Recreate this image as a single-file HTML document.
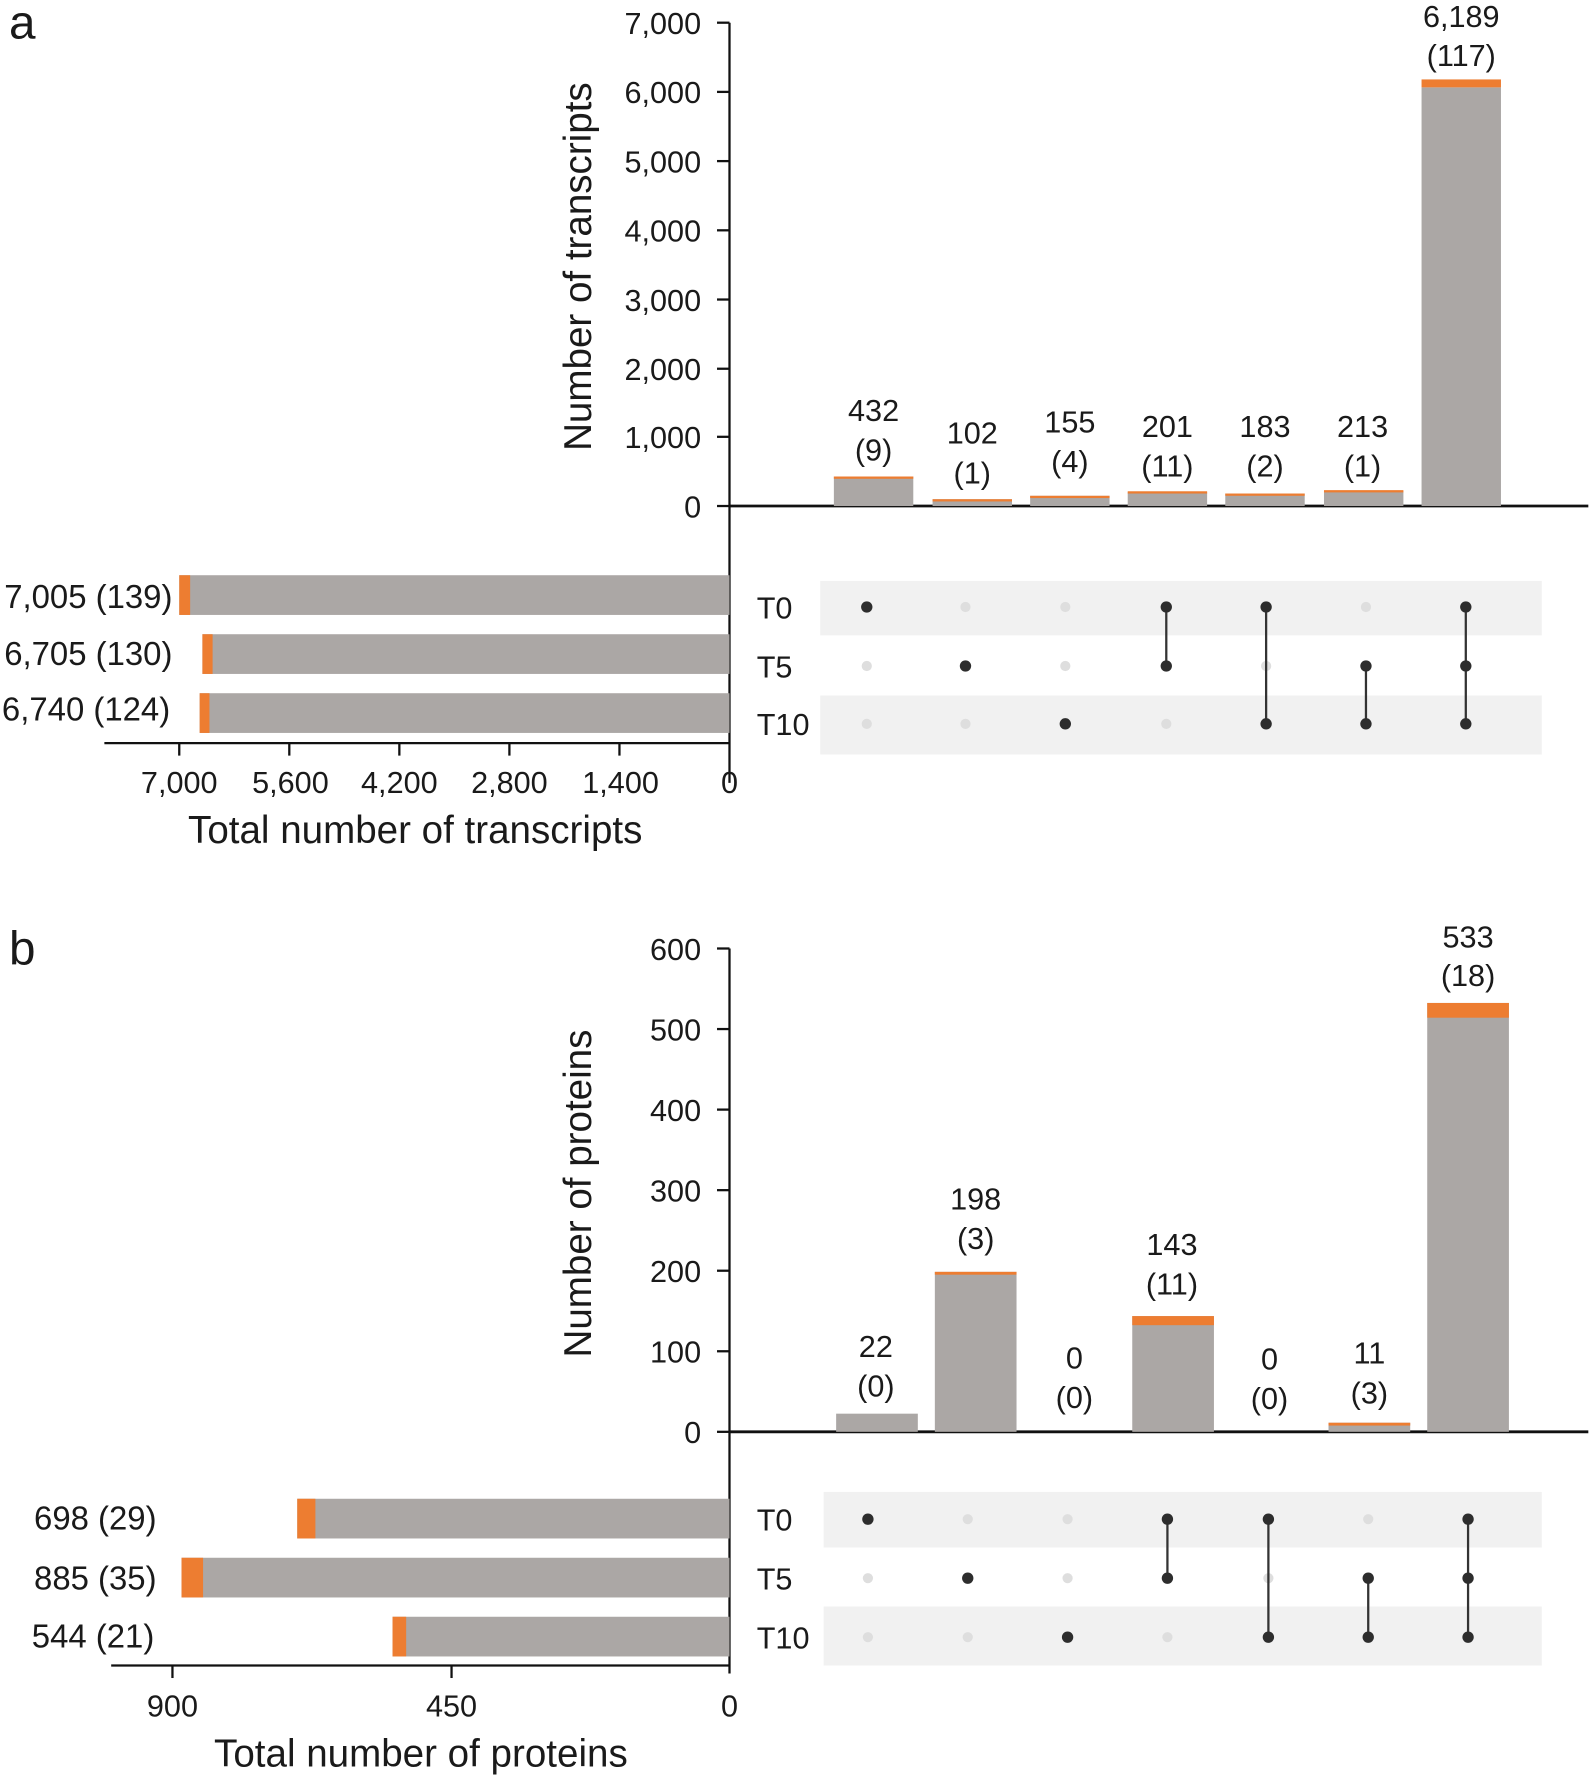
<!DOCTYPE html>
<html><head><meta charset="utf-8"><style>
html,body{margin:0;padding:0;background:#fff}
svg{display:block}
text{font-family:"Liberation Sans",Arial,sans-serif;fill:#1a1a1a}
</style></head><body>
<svg width="1594" height="1779" viewBox="0 0 1405 1568" preserveAspectRatio="none" xmlns="http://www.w3.org/2000/svg">
<g id="a">
<text x="8" y="34" font-size="42">a</text>
<line x1="643" y1="20" x2="643" y2="690" stroke="#111" stroke-width="2"/>
<line x1="643" y1="446" x2="1400" y2="446" stroke="#111" stroke-width="2.5"/>
<g stroke="#111" stroke-width="2">
<line x1="632" y1="20" x2="643" y2="20"/><line x1="632" y1="81" x2="643" y2="81"/><line x1="632" y1="142" x2="643" y2="142"/><line x1="632" y1="203" x2="643" y2="203"/><line x1="632" y1="264" x2="643" y2="264"/><line x1="632" y1="325" x2="643" y2="325"/><line x1="632" y1="385" x2="643" y2="385"/><line x1="632" y1="446" x2="643" y2="446"/>
</g>
<g font-size="27" text-anchor="end">
<text x="618" y="30">7,000</text><text x="618" y="91">6,000</text><text x="618" y="152">5,000</text><text x="618" y="213">4,000</text><text x="618" y="274">3,000</text><text x="618" y="335">2,000</text><text x="618" y="395">1,000</text><text x="618" y="456">0</text>
</g>
<text transform="translate(521,235) rotate(-90)" font-size="34" text-anchor="middle">Number of transcripts</text>
<g fill="#aba7a5">
<rect x="735" y="420" width="70" height="26"/>
<rect x="822" y="440" width="70" height="6"/>
<rect x="908" y="437" width="70" height="9"/>
<rect x="994" y="434" width="70" height="12"/>
<rect x="1080" y="435" width="70" height="11"/>
<rect x="1167" y="433" width="70" height="13"/>
<rect x="1253" y="77" width="70" height="369"/>
</g>
<g fill="#ed7d31">
<rect x="735" y="420" width="70" height="2"/>
<rect x="822" y="440" width="70" height="2"/>
<rect x="908" y="437" width="70" height="2"/>
<rect x="994" y="433" width="70" height="2"/>
<rect x="1080" y="435" width="70" height="2"/>
<rect x="1167" y="432" width="70" height="2"/>
<rect x="1253" y="70" width="70" height="7"/>
</g>
<g font-size="27" text-anchor="middle">
<text x="770" y="371">432</text><text x="770" y="406">(9)</text>
<text x="857" y="391">102</text><text x="857" y="426">(1)</text>
<text x="943" y="381">155</text><text x="943" y="416">(4)</text>
<text x="1029" y="385">201</text><text x="1029" y="420">(11)</text>
<text x="1115" y="385">183</text><text x="1115" y="420">(2)</text>
<text x="1201" y="385">213</text><text x="1201" y="420">(1)</text>
<text x="1288" y="24">6,189</text><text x="1288" y="58">(117)</text>
</g>
<rect x="723" y="512" width="636" height="48" fill="#f1f1f1"/>
<rect x="723" y="613" width="636" height="52" fill="#f1f1f1"/>
<g font-size="27"><text x="667" y="545">T0</text><text x="667" y="597">T5</text><text x="667" y="648">T10</text></g>
<g fill="#dedede">
<circle cx="851" cy="535" r="4.5"/><circle cx="939" cy="535" r="4.5"/><circle cx="1204" cy="535" r="4.5"/>
<circle cx="764" cy="587" r="4.5"/><circle cx="939" cy="587" r="4.5"/><circle cx="1116" cy="587" r="4.5"/>
<circle cx="764" cy="638" r="4.5"/><circle cx="851" cy="638" r="4.5"/><circle cx="1028" cy="638" r="4.5"/>
</g>
<g stroke="#333" stroke-width="2"><line x1="1028" y1="535" x2="1028" y2="587"/><line x1="1116" y1="535" x2="1116" y2="638"/><line x1="1204" y1="587" x2="1204" y2="638"/><line x1="1292" y1="535" x2="1292" y2="638"/></g>
<g fill="#2d2d2d">
<circle cx="764" cy="535" r="5"/><circle cx="851" cy="587" r="5"/><circle cx="939" cy="638" r="5"/>
<circle cx="1028" cy="535" r="5"/><circle cx="1028" cy="587" r="5"/>
<circle cx="1116" cy="535" r="5"/><circle cx="1116" cy="638" r="5"/>
<circle cx="1204" cy="587" r="5"/><circle cx="1204" cy="638" r="5"/>
<circle cx="1292" cy="535" r="5"/><circle cx="1292" cy="587" r="5"/><circle cx="1292" cy="638" r="5"/>
</g>
<rect x="158" y="507" width="485" height="35" fill="#aba7a5"/><rect x="158" y="507" width="9.6" height="35" fill="#ed7d31"/>
<rect x="178.4" y="559" width="464.6" height="35" fill="#aba7a5"/><rect x="178.4" y="559" width="9" height="35" fill="#ed7d31"/>
<rect x="176" y="611" width="467" height="35" fill="#aba7a5"/><rect x="176" y="611" width="8.6" height="35" fill="#ed7d31"/>
<g font-size="29" text-anchor="end"><text x="152" y="536">7,005 (139)</text><text x="152" y="586">6,705 (130)</text><text x="150" y="635">6,740 (124)</text></g>
<line x1="92" y1="655" x2="643" y2="655" stroke="#111" stroke-width="2"/>
<g stroke="#111" stroke-width="2"><line x1="158" y1="655" x2="158" y2="666"/><line x1="255" y1="655" x2="255" y2="666"/><line x1="352" y1="655" x2="352" y2="666"/><line x1="449" y1="655" x2="449" y2="666"/><line x1="546" y1="655" x2="546" y2="666"/></g>
<g font-size="27" text-anchor="middle"><text x="158" y="699">7,000</text><text x="256" y="699">5,600</text><text x="352" y="699">4,200</text><text x="449" y="699">2,800</text><text x="547" y="699">1,400</text><text x="643" y="699">0</text></g>
<text x="366" y="743" font-size="34" text-anchor="middle">Total number of transcripts</text>
</g>

<g id="b">
<text x="8" y="850" font-size="42">b</text>
<line x1="643" y1="836" x2="643" y2="1475" stroke="#111" stroke-width="2"/>
<line x1="643" y1="1262" x2="1400" y2="1262" stroke="#111" stroke-width="2.5"/>
<g stroke="#111" stroke-width="2">
<line x1="632" y1="836" x2="643" y2="836"/><line x1="632" y1="907" x2="643" y2="907"/><line x1="632" y1="978" x2="643" y2="978"/><line x1="632" y1="1049" x2="643" y2="1049"/><line x1="632" y1="1120" x2="643" y2="1120"/><line x1="632" y1="1191" x2="643" y2="1191"/><line x1="632" y1="1262" x2="643" y2="1262"/>
</g>
<g font-size="27" text-anchor="end">
<text x="618" y="846">600</text><text x="618" y="917">500</text><text x="618" y="988">400</text><text x="618" y="1059">300</text><text x="618" y="1130">200</text><text x="618" y="1201">100</text><text x="618" y="1272">0</text>
</g>
<text transform="translate(521,1052) rotate(-90)" font-size="34" text-anchor="middle">Number of proteins</text>
<g fill="#aba7a5">
<rect x="737" y="1246" width="72" height="16"/>
<rect x="824" y="1121" width="72" height="141"/>
<rect x="998" y="1160" width="72" height="102"/>
<rect x="1171" y="1254" width="72" height="8"/>
<rect x="1258" y="884" width="72" height="378"/>
</g>
<g fill="#ed7d31">
<rect x="824" y="1121" width="72" height="2.5"/>
<rect x="998" y="1160" width="72" height="8"/>
<rect x="1171" y="1254" width="72" height="2.5"/>
<rect x="1258" y="884" width="72" height="13"/>
</g>
<g font-size="27" text-anchor="middle">
<text x="772" y="1196">22</text><text x="772" y="1231">(0)</text>
<text x="860" y="1066">198</text><text x="860" y="1101">(3)</text>
<text x="947" y="1206">0</text><text x="947" y="1241">(0)</text>
<text x="1033" y="1106">143</text><text x="1033" y="1141">(11)</text>
<text x="1119" y="1207">0</text><text x="1119" y="1242">(0)</text>
<text x="1207" y="1202">11</text><text x="1207" y="1237">(3)</text>
<text x="1294" y="835">533</text><text x="1294" y="869">(18)</text>
</g>
<rect x="726" y="1315" width="633" height="49" fill="#f1f1f1"/>
<rect x="726" y="1416" width="633" height="52" fill="#f1f1f1"/>
<g font-size="27"><text x="667" y="1349">T0</text><text x="667" y="1401">T5</text><text x="667" y="1453">T10</text></g>
<g fill="#dedede">
<circle cx="853" cy="1339" r="4.5"/><circle cx="941" cy="1339" r="4.5"/><circle cx="1206" cy="1339" r="4.5"/>
<circle cx="765" cy="1391" r="4.5"/><circle cx="941" cy="1391" r="4.5"/><circle cx="1118" cy="1391" r="4.5"/>
<circle cx="765" cy="1443" r="4.5"/><circle cx="853" cy="1443" r="4.5"/><circle cx="1029" cy="1443" r="4.5"/>
</g>
<g stroke="#333" stroke-width="2"><line x1="1029" y1="1339" x2="1029" y2="1391"/><line x1="1118" y1="1339" x2="1118" y2="1443"/><line x1="1206" y1="1391" x2="1206" y2="1443"/><line x1="1294" y1="1339" x2="1294" y2="1443"/></g>
<g fill="#2d2d2d">
<circle cx="765" cy="1339" r="5"/><circle cx="853" cy="1391" r="5"/><circle cx="941" cy="1443" r="5"/>
<circle cx="1029" cy="1339" r="5"/><circle cx="1029" cy="1391" r="5"/>
<circle cx="1118" cy="1339" r="5"/><circle cx="1118" cy="1443" r="5"/>
<circle cx="1206" cy="1391" r="5"/><circle cx="1206" cy="1443" r="5"/>
<circle cx="1294" cy="1339" r="5"/><circle cx="1294" cy="1391" r="5"/><circle cx="1294" cy="1443" r="5"/>
</g>
<rect x="262" y="1321" width="381" height="35" fill="#aba7a5"/><rect x="262" y="1321" width="16" height="35" fill="#ed7d31"/>
<rect x="160" y="1373" width="483" height="35" fill="#aba7a5"/><rect x="160" y="1373" width="19" height="35" fill="#ed7d31"/>
<rect x="346" y="1425" width="297" height="35" fill="#aba7a5"/><rect x="346" y="1425" width="12" height="35" fill="#ed7d31"/>
<g font-size="29" text-anchor="end"><text x="138" y="1348">698 (29)</text><text x="138" y="1401">885 (35)</text><text x="136" y="1452">544 (21)</text></g>
<line x1="98" y1="1468" x2="643" y2="1468" stroke="#111" stroke-width="2"/>
<g stroke="#111" stroke-width="2"><line x1="152" y1="1468" x2="152" y2="1479"/><line x1="398" y1="1468" x2="398" y2="1479"/></g>
<g font-size="27" text-anchor="middle"><text x="152" y="1513">900</text><text x="398" y="1513">450</text><text x="643" y="1513">0</text></g>
<text x="371" y="1557" font-size="34" text-anchor="middle">Total number of proteins</text>
</g>
</svg>
</body></html>
